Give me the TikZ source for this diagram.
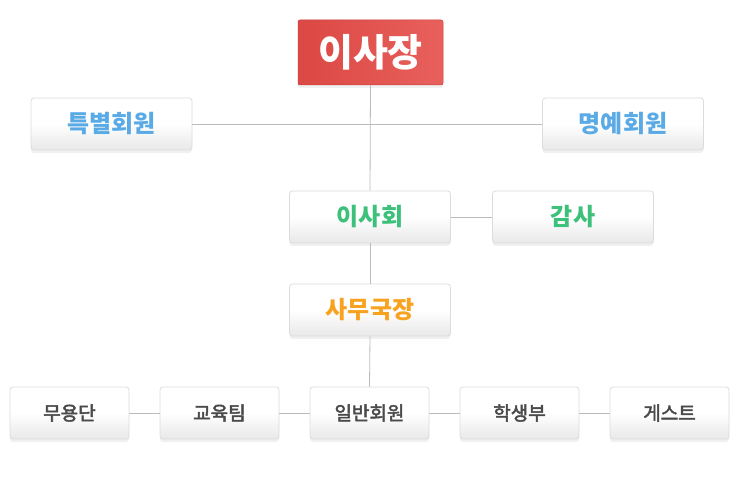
\documentclass[tikz,border=0pt]{standalone}
\usepackage{fontspec}
\setmainfont{Noto Sans CJK KR}
\newcommand\strokedtext[2]{\special{pdf:literal direct 2 Tr #1 w}#2\special{pdf:literal direct 0 Tr}}
\usetikzlibrary{shadows}
\definecolor{boxborder}{HTML}{DCDCDC}
\definecolor{linegray}{HTML}{BBBBBB}
\definecolor{txtblue}{HTML}{5AAAE6}
\definecolor{txtgreen}{HTML}{3CC07A}
\definecolor{txtorange}{HTML}{F7A320}
\definecolor{txtgray}{HTML}{4A4A4A}
\definecolor{redA}{HTML}{DC4844}
\definecolor{redB}{HTML}{E8605C}
\definecolor{boxbottom}{HTML}{E8E8E8}
\tikzset{
  box/.style={draw=boxborder, line width=0.8pt, rounded corners=3pt,
    top color=white, bottom color=boxbottom, middle color=white,
    drop shadow={opacity=0.12, shadow xshift=0pt, shadow yshift=-3pt},
    inner sep=0pt, anchor=center},
  bigbox/.style={box, minimum width=161pt, minimum height=52pt, font=\bfseries\fontsize{24}{26}\selectfont},
  smallbox/.style={box, minimum width=119pt, minimum height=52pt, font=\fontsize{19}{21}\selectfont, text=txtgray},
  topbox/.style={draw=redA!90!black, line width=0.5pt, rounded corners=2pt,
    left color=redA, right color=redB, minimum width=145pt, minimum height=65pt,
    inner sep=0pt, text=white, font=\bfseries\fontsize{38}{40}\selectfont,
    drop shadow={opacity=0.12, shadow xshift=0pt, shadow yshift=-3pt}},
  conn/.style={draw=linegray, line width=0.8pt}
}
\begin{document}
\begin{tikzpicture}[x=1pt,y=-1pt]
\useasboundingbox (0,0) rectangle (740,500);
\node[topbox] (chair) at (370.5,52.5) {이사장};
\node[bigbox, text=txtblue] (special) at (111.5,124) {특별회원};
\node[bigbox, text=txtblue] (honor) at (623,124) {명예회원};
\node[bigbox, text=txtgreen] (board) at (370,217) {이사회};
\node[bigbox, text=txtgreen] (audit) at (573,217) {감사};
\node[bigbox, text=txtorange] (sec) at (370,310) {사무국장};
\node[smallbox] (dance) at (69.5,413) {\strokedtext{0.5}{무용단}};
\node[smallbox] (edu) at (219.5,413) {\strokedtext{0.5}{교육팀}};
\node[smallbox] (member) at (369.5,413) {\strokedtext{0.5}{일반회원}};
\node[smallbox] (student) at (519.5,413) {\strokedtext{0.5}{학생부}};
\node[smallbox] (guest) at (669.5,413) {\strokedtext{0.5}{게스트}};
\draw[conn] (chair.south) -- (board.north);
\draw[conn] (board.south) -- (sec.north);
\draw[conn] (sec.south) -- (member.north);
\draw[conn] (special.east) -- (honor.west);
\draw[conn] (board.east) -- (audit.west);
\draw[conn] (dance.east) -- (edu.west);
\draw[conn] (edu.east) -- (member.west);
\draw[conn] (member.east) -- (student.west);
\draw[conn] (student.east) -- (guest.west);
\end{tikzpicture}
\end{document}
